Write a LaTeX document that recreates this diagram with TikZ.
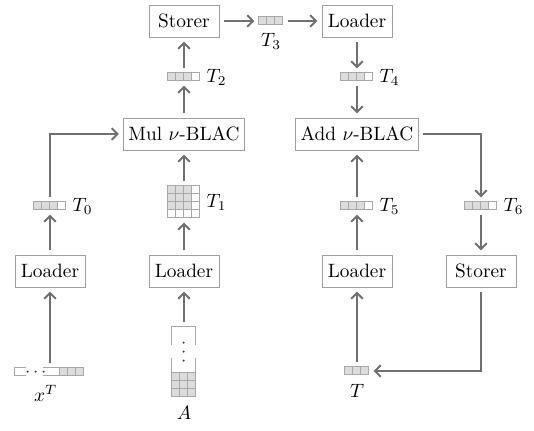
\documentclass[tikz,border=0pt]{standalone}
\usetikzlibrary{arrows.meta,calc}
\definecolor{linegray}{HTML}{707070}
\definecolor{boxgray}{HTML}{A0A0A0}
\definecolor{cellfill}{HTML}{DCDCDC}
\definecolor{cellline}{HTML}{A8A8A8}
\def\pxu{0.518pt}
\newcommand\vecfourcells[1]{\begin{scope}[shift={(#1.north west)}]
  \fill[cellfill] (0,0) rectangle (24,8);
  \draw[cellln] (0,0) rectangle (32,8) (8,0)--(8,8) (16,0)--(16,8) (24,0)--(24,8);
\end{scope}}
\newcommand\vecthreecells[1]{\begin{scope}[shift={(#1.north west)}]
  \fill[cellfill] (0,0) rectangle (24,8);
  \draw[cellln] (0,0) rectangle (24,8) (8,0)--(8,8) (16,0)--(16,8);
\end{scope}}
\newcommand\matfourcells[1]{\begin{scope}[shift={(#1.north west)}]
  \fill[cellfill] (0,0) rectangle (24,24);
  \draw[cellln] (0,0) rectangle (32,32);
  \foreach \k in {8,16,24}{\draw[cellln] (\k,0)--(\k,32) (0,\k)--(32,\k);}
\end{scope}}
\begin{document}
\begin{tikzpicture}[x=\pxu,y=-\pxu,
  box/.style={draw=boxgray,line width=0.5pt,fill=white,minimum height=32*\pxu,inner xsep=2.5pt,inner ysep=0pt},
  iobox/.style={box,minimum width=70*\pxu},
  conn/.style={draw=linegray,line width=1pt,-{Straight Barb[length=3pt,width=6pt]},shorten >=2.2pt,shorten <=2.2pt},
  cellln/.style={draw=cellline,line width=0.4pt},
  vecfour/.style={inner sep=0pt,minimum width=32*\pxu,minimum height=8*\pxu},
  vecthree/.style={inner sep=0pt,minimum width=24*\pxu,minimum height=8*\pxu},
  matfour/.style={inner sep=0pt,minimum width=32*\pxu,minimum height=32*\pxu},
  lab/.style={inner sep=1pt}
]
\useasboundingbox (0,0) rectangle (534,430);

% boxes
\node[iobox] (storerT) at (184,21) {Storer};
\node[iobox] (loaderT) at (357,21) {Loader};
\node[box] (mul) at (184,134) {Mul $\nu$-BLAC};
\node[box] (add) at (357,134) {Add $\nu$-BLAC};
\node[iobox] (loaderL) at (50,271) {Loader};
\node[iobox] (loaderM) at (184,271) {Loader};
\node[iobox] (loaderR) at (357,271) {Loader};
\node[iobox] (storerR) at (481,271) {Storer};

% data icons
\node[vecthree] (T3) at (271,21) {};
\node[vecfour] (T2) at (184,77) {};
\node[vecfour] (T4) at (357,77) {};
\node[vecfour] (T0) at (50,206) {};
\node[matfour] (T1) at (184,202) {};
\node[vecfour] (T5) at (357,206) {};
\node[vecfour] (T6) at (481,206) {};
\node[vecthree] (T) at (357,371) {};
\vecthreecells{T3}
\vecfourcells{T2}
\vecfourcells{T4}
\vecfourcells{T0}
\matfourcells{T1}
\vecfourcells{T5}
\vecfourcells{T6}
\vecthreecells{T}

% x^T row vector
\node[inner sep=0pt,minimum width=69*\pxu,minimum height=8*\pxu] (xT) at (49.5,372) {};
\begin{scope}[shift={(xT.north west)}]
  \fill[cellfill] (45,0) rectangle (69,8);
  \draw[cellln] (45,0) rectangle (69,8) (53,0)--(53,8) (61,0)--(61,8);
  \draw[cellln] (11,0) -- (0,0) -- (0,8) -- (11,8);
  \draw[cellln] (28,0) -- (45,0) (28,8) -- (45,8);
  \foreach \d in {13,21,29}{\fill[black!80] (\d,4) circle[radius=0.55pt];}
\end{scope}

% A column matrix
\node[inner sep=0pt,minimum width=24*\pxu,minimum height=70*\pxu] (A) at (184,362) {};
\begin{scope}[shift={(A.north west)}]
  \fill[cellfill] (0,46) rectangle (24,70);
  \draw[cellln] (0,46) rectangle (24,70) (8,46)--(8,70) (16,46)--(16,70) (0,54)--(24,54) (0,62)--(24,62);
  \draw[cellln] (0,18) -- (0,0) -- (24,0) -- (24,18);
  \draw[cellln] (0,31) -- (0,46) (24,31) -- (24,46);
  \foreach \d in {16,25,34}{\fill[black!80] (12,\d) circle[radius=0.55pt];}
\end{scope}

% labels
\node[lab,anchor=north] (lT3) at ([yshift=-3pt]T3.south) {$T_3$};
\node[lab,anchor=west] (lT2) at ([xshift=2pt]T2.east) {$T_2$};
\node[lab,anchor=west] (lT4) at ([xshift=2pt]T4.east) {$T_4$};
\node[lab,anchor=west] (lT0) at ([xshift=2pt]T0.east) {$T_0$};
\node[lab,anchor=west] (lT1) at ([xshift=2pt]T1.east) {$T_1$};
\node[lab,anchor=west] (lT5) at ([xshift=2pt]T5.east) {$T_5$};
\node[lab,anchor=west] (lT6) at ([xshift=2pt]T6.east) {$T_6$};
\node[lab,anchor=north] (lT) at ([yshift=-3.5pt]T.south) {$T$};
\node[lab,anchor=north] (lxT) at ([xshift=-2pt,yshift=-3.5pt]xT.south) {$x^T$};
\node[lab,anchor=north] (lA) at ([yshift=-3.5pt]A.south) {$A$};

% connectors
\draw[conn] (xT.north -| loaderL) -- (loaderL.south);
\draw[conn] (loaderL.north) -- (T0.south);
\draw[conn] (T0.north) |- (mul.west);
\draw[conn] (A.north) -- (loaderM.south);
\draw[conn] (loaderM.north) -- (T1.south);
\draw[conn] (T1.north) -- (mul.south);
\draw[conn] (mul.north) -- (T2.south);
\draw[conn] (T2.north) -- (storerT.south);
\draw[conn] (storerT.east) -- (T3.west);
\draw[conn] (T3.east) -- (loaderT.west);
\draw[conn] (loaderT.south) -- (T4.north);
\draw[conn] (T4.south) -- (add.north);
\draw[conn] (T.north) -- (loaderR.south);
\draw[conn] (loaderR.north) -- (T5.south);
\draw[conn] (T5.north) -- (add.south);
\draw[conn] (add.east) -| (T6.north);
\draw[conn] (T6.south) -- (storerR.north);
\draw[conn] (storerR.south) |- (T.east);
\end{tikzpicture}
\end{document}
